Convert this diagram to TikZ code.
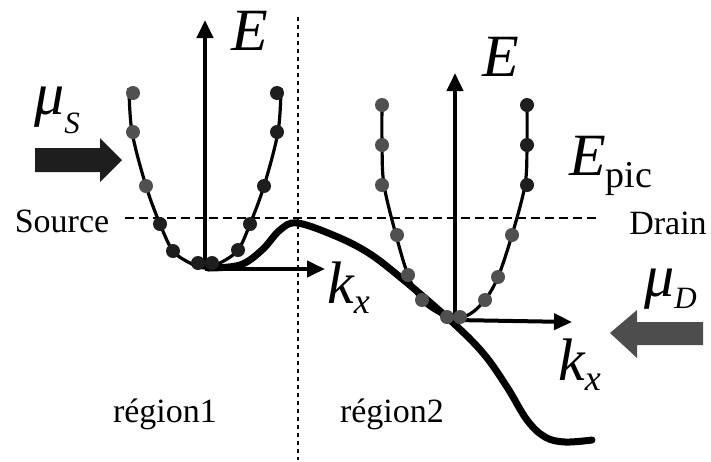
\documentclass[tikz,border=0pt]{standalone}
\usepackage{fontspec}
\setmainfont{Liberation Serif}
\usetikzlibrary{arrows.meta}
\definecolor{dotgray}{HTML}{505050}
\definecolor{dotdark}{HTML}{1E1E1E}
\definecolor{arrdark}{HTML}{1E1E1E}
\definecolor{arrgray}{HTML}{4D4D4D}
\tikzset{
  axis/.style={line width=4pt,-{Triangle[length=18pt,width=16pt]}},
  band/.style={line width=3.2pt},
  prof/.style={line width=7pt,line cap=round},
  gdot/.style={circle,fill=dotgray,inner sep=0pt,minimum size=14pt},
  ddot/.style={circle,fill=dotdark,inner sep=0pt,minimum size=14pt},
  lbl/.style={inner sep=0pt,font=\fontsize{34}{36}\selectfont},
  big/.style={inner sep=0pt,font=\fontsize{60}{60}\selectfont\itshape},
}
\newcommand{\subit}[1]{{\fontsize{36}{36}\selectfont\itshape #1}}
\newcommand{\subsm}[1]{{\fontsize{31}{31}\selectfont\itshape #1}}
\begin{document}
\begin{tikzpicture}[x=1pt,y=-1pt]
\useasboundingbox (0,0) rectangle (711,461);
% guide lines
\coordinate (vtop) at (298,17);
\coordinate (vbot) at (298,460);
\draw[line width=2pt,dash pattern=on 4pt off 4pt] (vtop) -- (vbot);
\coordinate (hl) at (125,218);
\coordinate (hr) at (600,218);
\draw[line width=2pt,dash pattern=on 9pt off 5pt] (hl) -- (hr);
\node[lbl] (source) at (62,221) {Source};
\node[lbl] (drain) at (668,223) {Drain};
\node[lbl] (r1) at (165,414) {région1};
\node[lbl] (r2) at (392,414) {région2};
% left band
\coordinate (o1) at (205,269);
\coordinate (e1) at (205,20);
\coordinate (k1) at (325,269);
\draw[band] plot[smooth,tension=0.55] coordinates {(129,88) (132,132) (146,186) (160,224) (173,251) (190,263) (205,268) (220,263) (238,250) (250,224) (264,186) (278,132) (281,88)};
\draw[axis] (o1) -- (e1);
\draw[axis] (o1) -- (k1);
\node[big] (E1) at (250,31) {E};
\node[big,anchor=base west] (kx1) at (327,303) {k\raisebox{-10pt}{\subit{x}}};
% right band
\coordinate (o2) at (455,320);
\coordinate (e2) at (455,73);
\coordinate (k2) at (572,322);
\draw[band] plot[smooth,tension=0.55] coordinates {(382,100) (382,145) (384,185) (396,235) (408,275) (421,300) (440,314) (455,318) (470,314) (485,300) (498,277) (512,235) (525,185) (527,145) (527,100)};
\draw[axis] (o2) -- (e2);
\draw[axis] (o2) -- (k2);
\node[big] (E2) at (501,57) {E};
\node[big,anchor=base west] (kx2) at (558,380) {k\raisebox{-10pt}{\subit{x}}};
\node[big,anchor=base west] (Epic) at (569,175) {E\raisebox{-12pt}{\upshape\fontsize{38}{38}\selectfont pic}};
% potential profile
\draw[prof] plot[smooth,tension=0.6] coordinates {(208,268) (240,265) (262,250) (280,230) (297,223) (333,235) (367,252) (400,277) (450,320) (483,353) (507,387) (527,420) (545,437) (565,442) (592,440)};
% dots left band
\foreach \p in {(133,93),(133,132),(146,186)} \node[gdot] at \p {};
\foreach \p in {(160,224),(173,251),(198,263),(212,263),(238,250),(250,224),(264,186),(277,132),(277,93)} \node[ddot] at \p {};
% dots right band
\foreach \p in {(382,105),(382,145),(382,185),(397,235),(408,275),(422,300),(447,317),(460,317),(485,300),(498,277),(512,235)} \node[gdot] at \p {};
\foreach \p in {(527,185),(527,145),(527,105)} \node[ddot] at \p {};
% chemical potentials
\node[big,anchor=base west] (muS) at (34,114) {μ\raisebox{-19pt}{\subsm{S}}};
\node[big,anchor=base west] (muD) at (644,296) {μ\raisebox{-12pt}{\subsm{D}}};
\fill[arrdark] (35,148) -- (100,148) -- (100,138) -- (122,160) -- (100,182) -- (100,172) -- (35,172) -- cycle;
\fill[arrgray] (703,322) -- (637,322) -- (637,310) -- (610,333) -- (637,358) -- (637,345) -- (703,345) -- cycle;
\end{tikzpicture}
\end{document}
